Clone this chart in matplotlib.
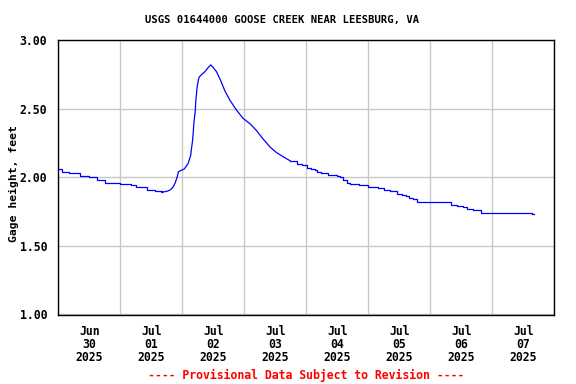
import numpy as np
import pandas as pd
import matplotlib
matplotlib.use('Agg')
import matplotlib.pyplot as plt
import matplotlib.dates as mdates

#%% data read off the hydrograph (time, gage height in ft)

times = [
    '2025-06-30 00:00', '2025-06-30 01:30', '2025-06-30 04:00', '2025-06-30 08:30',
    '2025-06-30 12:00', '2025-06-30 15:00', '2025-06-30 18:15', '2025-06-30 23:45',
    '2025-07-01 04:00', '2025-07-01 06:15', '2025-07-01 10:15', '2025-07-01 13:30',
    '2025-07-01 16:00',
    # rise / recession
    '2025-07-01 18:30', '2025-07-01 19:30', '2025-07-01 20:30', '2025-07-01 21:15',
    '2025-07-01 22:00', '2025-07-01 22:30', '2025-07-01 23:30', '2025-07-02 00:45',
    '2025-07-02 01:30', '2025-07-02 02:15', '2025-07-02 03:15', '2025-07-02 03:30',
    '2025-07-02 04:00', '2025-07-02 04:15', '2025-07-02 04:30', '2025-07-02 05:00',
    '2025-07-02 05:15', '2025-07-02 05:45', '2025-07-02 06:15', '2025-07-02 06:30',
    '2025-07-02 07:30', '2025-07-02 08:45', '2025-07-02 10:00', '2025-07-02 11:00',
    '2025-07-02 12:00', '2025-07-02 13:15', '2025-07-02 14:45', '2025-07-02 16:30',
    '2025-07-02 18:30', '2025-07-02 21:00', '2025-07-02 23:30', '2025-07-03 02:15',
    '2025-07-03 04:45', '2025-07-03 07:15', '2025-07-03 10:00', '2025-07-03 12:30',
    '2025-07-03 15:00', '2025-07-03 17:45',
    # slow stepped tail
    '2025-07-03 20:30', '2025-07-03 22:15', '2025-07-04 00:15', '2025-07-04 01:45',
    '2025-07-04 03:15', '2025-07-04 04:00', '2025-07-04 05:45', '2025-07-04 08:30',
    '2025-07-04 12:00', '2025-07-04 13:00', '2025-07-04 14:15', '2025-07-04 15:45',
    '2025-07-04 17:00', '2025-07-04 20:30', '2025-07-05 00:00', '2025-07-05 03:45',
    '2025-07-05 06:00', '2025-07-05 08:30', '2025-07-05 11:00', '2025-07-05 13:00',
    '2025-07-05 14:30', '2025-07-05 15:45', '2025-07-05 17:15', '2025-07-05 18:45',
    '2025-07-06 06:45', '2025-07-06 08:00', '2025-07-06 10:15', '2025-07-06 12:45',
    '2025-07-06 14:15', '2025-07-06 16:30', '2025-07-06 19:30', '2025-07-07 12:15',
    '2025-07-07 15:30', '2025-07-07 16:00',
]
gage = [
    2.06, 2.04, 2.03, 2.01,
    2.00, 1.98, 1.96, 1.95,
    1.94, 1.93, 1.91, 1.90,
    1.89,
    1.90, 1.91, 1.93, 1.96,
    2.00, 2.04, 2.05, 2.06,
    2.08, 2.10, 2.16, 2.20,
    2.27, 2.33, 2.40, 2.48,
    2.56, 2.66, 2.71, 2.73,
    2.75, 2.77, 2.80, 2.82,
    2.80, 2.77, 2.71, 2.63,
    2.56, 2.49, 2.43, 2.39,
    2.34, 2.28, 2.22, 2.18,
    2.15, 2.12,
    2.10, 2.09, 2.07, 2.06,
    2.05, 2.04, 2.03, 2.02,
    2.01, 2.00, 1.98, 1.96,
    1.95, 1.94, 1.93, 1.92,
    1.91, 1.90, 1.88, 1.87,
    1.86, 1.85, 1.84, 1.82,
    1.82, 1.80, 1.79, 1.78,
    1.77, 1.76, 1.74, 1.74,
    1.73, 1.73,
]

title = 'USGS 01644000 GOOSE CREEK NEAR LEESBURG, VA'
ylabel = 'Gage height, feet'
footer = '---- Provisional Data Subject to Revision ----'
yticks = [1.0, 1.5, 2.0, 2.5, 3.0]

df = pd.DataFrame({'t': pd.to_datetime(times), 'h': gage})

rise_start = pd.Timestamp('2025-07-01 16:00')
tail_start = pd.Timestamp('2025-07-03 17:45')

#%% plot

font = 'DejaVu Sans Mono'
fig = plt.figure(figsize=(5.76, 3.84), dpi=100)
ax = fig.add_axes([0.1012, 0.1797, 0.8611, 0.7174])

head = df[df.t <= rise_start]
mid = df[(df.t >= rise_start) & (df.t <= tail_start)]
tail = df[df.t >= tail_start]
lw = 0.9
ax.plot(head.t, head.h, color='#0000ff', lw=lw, drawstyle='steps-post')
ax.plot(mid.t, mid.h, color='#0000ff', lw=lw)
ax.plot(tail.t, tail.h, color='#0000ff', lw=lw, drawstyle='steps-post')

ax.set_xlim(pd.Timestamp('2025-06-30'), pd.Timestamp('2025-07-08'))
ax.set_ylim(0.995, 3.005)

ax.xaxis.set_major_locator(mdates.DayLocator())
ax.xaxis.set_major_formatter(plt.NullFormatter())
ax.xaxis.set_minor_locator(mdates.HourLocator(byhour=12))
ax.xaxis.set_minor_formatter(mdates.DateFormatter('%b\n%d\n%Y'))
ax.set_yticks(yticks)
ax.set_yticklabels(['%.2f' % v for v in yticks])

ax.grid(True, which='major', color='#c8c8c8', lw=1.0)
ax.set_axisbelow(True)
ax.tick_params(which='both', length=0)
ax.tick_params(axis='x', which='minor', pad=7)
ax.tick_params(axis='y', pad=8)
for lab in ax.get_xticklabels(minor=True) + ax.get_yticklabels():
    lab.set_fontfamily(font)
    lab.set_fontweight('bold')
    lab.set_fontsize(8.3)
for lab in ax.get_xticklabels(minor=True):
    lab.set_linespacing(1.02)

for s in ax.spines.values():
    s.set_color('black')
    s.set_linewidth(1.0)

ax.set_ylabel(ylabel, fontfamily=font, fontweight='bold', fontsize=8.2)
ax.yaxis.set_label_coords(-0.080, 0.477)
fig.text(0.4905, 0.948, title, ha='center', va='center',
         fontfamily=font, fontweight='bold', fontsize=7.6)
fig.text(0.532, 0.021, footer, ha='center', va='center', color='#ff0000',
         fontfamily=font, fontweight='bold', fontsize=8.3)

fig.savefig('out.png', dpi=100)
